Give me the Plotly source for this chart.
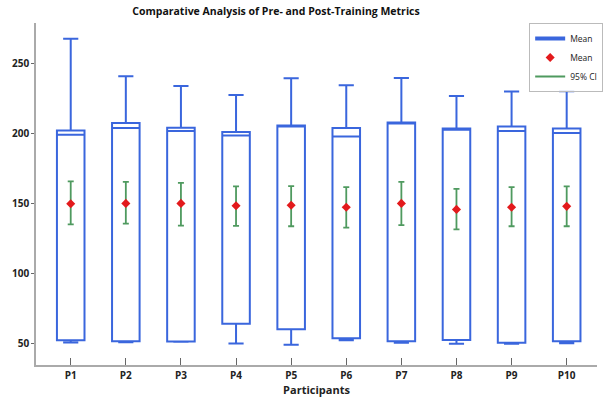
import plotly.graph_objects as go

participants = ["P1", "P2", "P3", "P4", "P5", "P6", "P7", "P8", "P9", "P10"]
upper_fence = [267.7, 241.0, 234.0, 227.6, 239.6, 234.6, 239.8, 226.9, 230.2, 230.3]
q3 = [202.3, 207.6, 204.2, 201.2, 205.9, 204.0, 208.0, 203.8, 205.2, 203.7]
median = [199.3, 204.0, 202.0, 198.8, 205.5, 198.0, 207.5, 202.8, 201.9, 200.5]
q1 = [52.7, 52.0, 51.8, 64.5, 60.5, 54.0, 52.0, 52.9, 50.9, 52.0]
lower_fence = [51.0, 51.3, 51.5, 50.4, 49.5, 52.7, 50.9, 50.2, 50.2, 50.5]
means = [150.0, 150.3, 150.3, 148.6, 149.0, 147.5, 150.3, 146.0, 147.5, 148.2]
ci_low = [135.4, 135.9, 134.4, 134.2, 134.0, 133.0, 134.8, 131.8, 134.0, 134.0]
ci_high = [166.0, 165.7, 165.0, 162.4, 162.6, 161.9, 165.7, 160.7, 161.9, 162.4]

BLUE = "#3a66dd"
RED = "#e31a1c"
GREEN = "#4f9a5f"
FONT = "Open Sans"

fig = go.Figure()

fig.add_trace(go.Box(
    x=participants, q1=q1, median=median, q3=q3,
    lowerfence=lower_fence, upperfence=upper_fence,
    width=0.5, whiskerwidth=0.55,
    line=dict(color=BLUE, width=2), fillcolor="rgba(255,255,255,0)",
    showlegend=False, hoverinfo="skip",
))

# legend helpers
fig.add_trace(go.Scatter(x=[None], y=[None], mode="lines", name="Mean",
                         line=dict(color=BLUE, width=4)))

fig.add_trace(go.Scatter(
    x=participants, y=means, mode="markers", name="Mean",
    marker=dict(symbol="diamond", size=7, color=RED),
    error_y=dict(type="data", symmetric=False,
                 array=[h - m for h, m in zip(ci_high, means)],
                 arrayminus=[m - l for m, l in zip(means, ci_low)],
                 color=GREEN, thickness=1.8, width=3),
))

fig.add_trace(go.Scatter(x=[None], y=[None], mode="lines", name="95% CI",
                         line=dict(color=GREEN, width=2)))

fig.update_layout(
    width=614, height=399,
    margin=dict(l=36, r=11, t=23, b=34),
    paper_bgcolor="white", plot_bgcolor="white",
    font=dict(family=FONT, color="#222"),
    title=dict(text="Comparative Analysis of Pre- and Post-Training Metrics",
               x=276 / 614, xanchor="center", y=1 - 11 / 399, yanchor="middle",
               font=dict(size=10.5, weight="bold", color="#111")),
    legend=dict(x=1.011, xanchor="right", y=1.0, yanchor="top",
                bgcolor="rgba(255,255,255,0.85)", bordercolor="#bbb", borderwidth=1,
                font=dict(size=8.5), tracegroupgap=0, itemwidth=30),
    showlegend=True,
)

fig.update_xaxes(
    type="category", range=[-0.63, 9.55], automargin=False,
    showline=True, linecolor="#aaa", linewidth=1.5,
    ticks="inside", ticklen=7, tickcolor="#666",
    showgrid=False, zeroline=False,
    tickfont=dict(size=10, weight="bold", color="#222"),
    title=dict(text="Participants", font=dict(size=11, weight="bold", color="#222"), standoff=2),
)
fig.update_yaxes(
    range=[35, 279], automargin=False,
    tickvals=[50, 100, 150, 200, 250],
    showline=True, linecolor="#aaa", linewidth=1.5,
    ticks="outside", ticklen=3, tickcolor="#666",
    showgrid=False, zeroline=False,
    tickfont=dict(size=10, weight="bold", color="#222"),
)

fig.write_html("out.html", config={"displayModeBar": False},
               post_script="document.body.style.margin='0';")
